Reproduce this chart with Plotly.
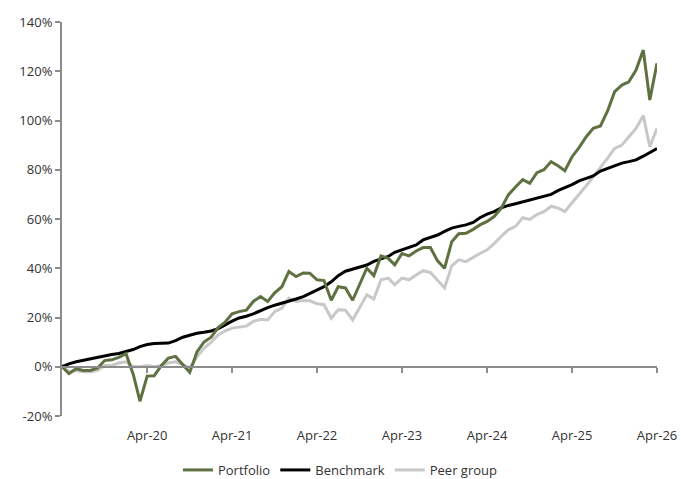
import pandas as pd
import plotly.graph_objects as go

dates = pd.date_range("2019-04-01", periods=85, freq="MS")

portfolio = [0, -2.8, -0.8, -1.5, -1.5, -0.5, 2.5, 2.8, 3.8, 5.3, -3, -14, -3.8, -3.7, 0.5, 3.5, 4.2, 1, -2.3,
             6, 10, 12, 16, 18, 21.5, 22.4, 23, 26.5, 28.5, 26.5, 30, 32.5, 38.7,
             36.6, 38.1, 38, 35.3, 35, 27, 32.5, 32, 27, 33.5, 40, 37, 45, 44, 41.4,
             46, 45, 47, 48.4, 48.4, 43, 40, 50.8, 54, 54.2, 55.8, 57.6,
             59, 61, 64.4, 69.8, 73, 76, 74.5, 78.8, 80, 83.3, 81.5, 79.6,
             85.3, 89, 93.4, 96.8, 97.8, 104, 111.7, 114.4, 115.7, 120.5, 128.6, 108.3, 123.2]

benchmark = [0, 1.2, 2, 2.6, 3.4, 4, 4.6, 5, 5.4, 6.2, 7, 8.2, 9, 9.4, 9.4, 9.6, 10.6, 12, 12.8,
             13.6, 14, 14.5, 15.5, 17, 18.5, 19.8, 20.5, 21.5, 22.8, 24, 25, 25.8, 26.5,
             27.5, 28.5, 29.8, 31, 32.5, 34.5, 37, 38.8, 39.6, 40.4, 41.3, 42.8, 43.7, 44.8, 46.5,
             47.5, 48.5, 49.5, 51.5, 52.4, 53.5, 55, 56.3, 57, 57.6, 58.6, 60.5,
             62, 63, 64.5, 65.5, 66.2, 67, 67.6, 68.3, 69.2, 70, 71.6, 72.6,
             74, 75.5, 76.5, 77.5, 79.5, 80.5, 81.5, 82.7, 83.3, 84, 85.5, 87, 88.6]

peer_group = [0, -2, -1.5, -2, -2, -1.5, 0.5, 0.5, 1.5, 2, 0, 0, 0.5, 0, 0.5, 1.5, 2, 1, -0.5,
              4, 7.5, 10, 13, 14.5, 15.7, 16.2, 16.5, 18.4, 19.3, 19, 22.4, 23.8, 27.9,
              26.5, 26.9, 26.8, 25.6, 25.2, 19.7, 23.1, 23, 19, 24, 29.2, 27.5, 35.3, 36, 33.3,
              36, 35.3, 37.3, 39, 38.3, 35.3, 32, 41, 43.4, 42.7, 44.5, 46,
              47.5, 50, 53, 55.6, 57, 60.5, 59.8, 61.8, 63, 65.2, 64.4, 63,
              66.6, 69.8, 73.5, 77.2, 80.8, 84.7, 88.7, 90, 93.4, 96.8, 102, 89.4, 96.8]

tick_dates = pd.date_range("2020-04-01", "2026-04-01", freq="12MS")
tick_labels = ["Apr-20", "Apr-21", "Apr-22", "Apr-23", "Apr-24", "Apr-25", "Apr-26"]
y_ticks = [-20, 0, 20, 40, 60, 80, 100, 120, 140]
y_labels = ["-20%", "0%", "20%", "40%", "60%", "80%", "100%", "120%", "140%"]

GREEN = "#5f7141"
GRAY = "#c8c8c8"
AXIS = "#8c8c8c"
TEXT = "#333333"
FONT = "Open Sans"

fig = go.Figure()
fig.add_trace(go.Scatter(x=dates, y=peer_group, mode="lines", name="Peer group",
                         line=dict(color=GRAY, width=3), legendrank=3))
fig.add_trace(go.Scatter(x=dates, y=benchmark, mode="lines", name="Benchmark",
                         line=dict(color="#000000", width=3), legendrank=2))
fig.add_trace(go.Scatter(x=dates, y=portfolio, mode="lines", name="Portfolio",
                         line=dict(color=GREEN, width=3), legendrank=1))
# helper trace so the zero-line axis (x2) with tick marks is drawn
fig.add_trace(go.Scatter(x=[dates[0]], y=[0], xaxis="x2", mode="lines",
                         showlegend=False, hoverinfo="skip", line=dict(width=0)))

x_range = [dates[0], dates[-1]]
fig.update_layout(
    width=681, height=479,
    margin=dict(l=62, r=24, t=22, b=63, autoexpand=False),
    paper_bgcolor="white", plot_bgcolor="white",
    font=dict(family=FONT, size=13, color=TEXT),
    xaxis=dict(type="date", range=x_range, tickvals=list(tick_dates), ticktext=tick_labels,
               showgrid=False, zeroline=False, showline=False, ticks="", tickangle=0,
               tickfont=dict(size=13, color=TEXT), ticklabelstandoff=10),
    xaxis2=dict(type="date", range=x_range, overlaying="x", anchor="free", position=0.125,
                side="bottom", tickvals=list(tick_dates), showticklabels=False,
                showgrid=False, zeroline=False, showline=True, linecolor=AXIS, linewidth=2,
                ticks="outside", ticklen=5, tickwidth=2, tickcolor=AXIS),
    yaxis=dict(range=[-20, 140], tickvals=y_ticks, ticktext=y_labels,
               showgrid=False, zeroline=False, showline=True, linecolor=AXIS, linewidth=2,
               ticks="outside", ticklen=5, tickwidth=2, tickcolor=AXIS,
               tickfont=dict(size=13, color=TEXT)),
    legend=dict(orientation="h", x=0.468, xanchor="center",
                y=-0.137, yanchor="middle", font=dict(size=13, color=TEXT),
                itemwidth=30, tracegroupgap=0, entrywidth=0),
    showlegend=True,
)

fig.write_html("out.html", config={"displayModeBar": False},
               post_script="document.body.style.margin='0';")
